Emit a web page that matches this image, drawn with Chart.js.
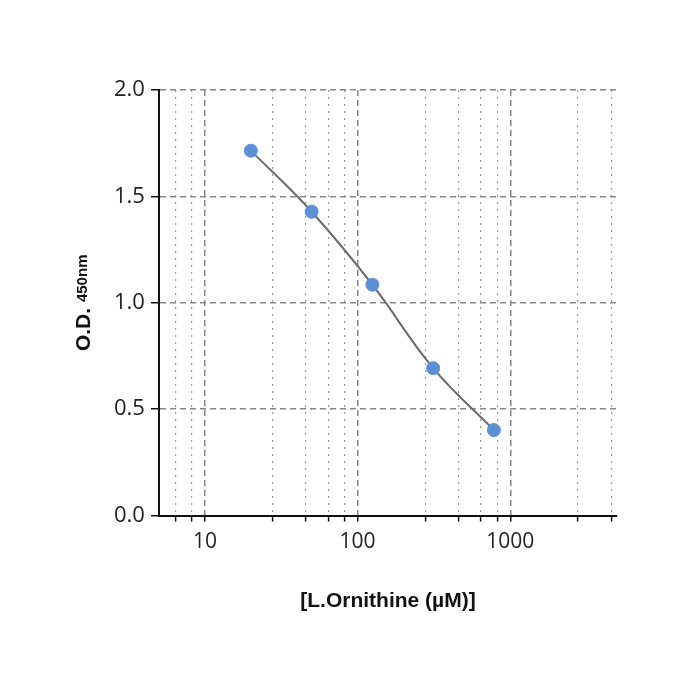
<!DOCTYPE html>
<html><head><meta charset="utf-8">
<script src="https://cdn.jsdelivr.net/npm/chart.js@4"></script>
<style>html,body{margin:0;background:#fff}#w{width:700px;height:700px}</style>
</head><body><div id="w"><canvas id="c"></canvas></div>
<script>
const concentrations = [20, 50, 125, 312.5, 781];
const odValues = [1.715, 1.428, 1.085, 0.693, 0.402];
const yTicks = [0, 0.5, 1.0, 1.5, 2.0];
const xMajorTicks = [10, 100, 1000];
const xMinorTicks = [6.43, 8.2, 27.8, 45.9, 64.3, 82, 278, 459, 643, 820, 2780, 4590];
const xLabel = '[L.Ornithine (µM)]';
const yLabelMain = 'O.D.';
const yLabelSub = '450nm';

const pts = concentrations.map((x,i)=>({x, y: odValues[i]}));
const isMajor = v => xMajorTicks.includes(v);

const yTitle = {
  id:'yTitle',
  afterDraw(chart){
    const c = chart.ctx, a = chart.chartArea;
    c.save();
    c.translate(90, (a.top+a.bottom)/2);
    c.rotate(-Math.PI/2);
    c.fillStyle = '#111';
    c.textBaseline = 'alphabetic';
    c.font = 'bold 21px "Liberation Sans", Arial';
    const w1 = c.measureText(yLabelMain + ' ').width;
    c.font = 'bold 15px "Liberation Sans", Arial';
    const w2 = c.measureText(yLabelSub).width;
    let x0 = -(w1+w2)/2;
    c.font = 'bold 21px "Liberation Sans", Arial';
    c.fillText(yLabelMain + ' ', x0, 0);
    c.font = 'bold 15px "Liberation Sans", Arial';
    c.fillText(yLabelSub, x0 + w1, -3);
    c.restore();
  }
};

new Chart(document.getElementById('c'), {
  type: 'scatter',
  data: { datasets: [
    { data: pts, showLine: true, borderColor: '#6b6b6b', borderWidth: 2, tension: 0.4,
      pointRadius: 0, pointHoverRadius: 0, order: 2 },
    { data: pts, showLine: false, pointRadius: 6.5, pointBackgroundColor: '#5b8fd6',
      pointBorderColor: '#5b8fd6', order: 1 }
  ]},
  options: {
    responsive: true, maintainAspectRatio: false, animation: false,
    layout: { padding: { left: 108, right: 83, top: 90, bottom: 82 } },
    plugins: { legend: { display: false }, tooltip: { enabled: false } },
    scales: {
      x: {
        type: 'logarithmic', min: 5, max: 5000,
        afterBuildTicks: s => { s.ticks = xMinorTicks.concat(xMajorTicks).sort((a,b)=>a-b).map(v => ({ value: v })); },
        border: { display: true, color: '#111', width: 2,
          dash: ctx => (ctx.tick && isMajor(ctx.tick.value)) ? [6,4] : [2,5] },
        grid: {
          color: ctx => (ctx.tick && isMajor(ctx.tick.value)) ? '#888' : '#999',
          lineWidth: ctx => (ctx.tick && isMajor(ctx.tick.value)) ? 1.5 : 1.2,
          tickColor: '#111', tickLength: ctx => (ctx.tick && isMajor(ctx.tick.value)) ? 8 : 6,
          tickBorderDash: [], tickWidth: 1.5
        },
        ticks: { autoSkip: false, color: '#222', font: { size: 21, family: '"Open Sans"' },
          maxRotation: 0, padding: 8,
          callback: v => isMajor(v) ? String(v) : '' },
        title: { display: true, text: xLabel, color: '#111', padding: { top: 26 },
          font: { size: 21, weight: 'bold', family: '"Liberation Sans", Arial' } }
      },
      y: {
        min: 0, max: 2,
        border: { display: true, color: '#111', width: 2, dash: [6,4] },
        grid: { color: '#888', lineWidth: 1.5, tickColor: '#111', tickLength: 8, tickBorderDash: [], tickWidth: 1.5 },
        afterBuildTicks: s => { s.ticks = yTicks.map(v => ({ value: v })); },
        ticks: { color: '#222', font: { size: 22, family: '"Open Sans"' }, padding: 6,
          callback: v => Number(v).toFixed(1) }
      }
    }
  },
  plugins: [yTitle]
});
</script></body></html>
